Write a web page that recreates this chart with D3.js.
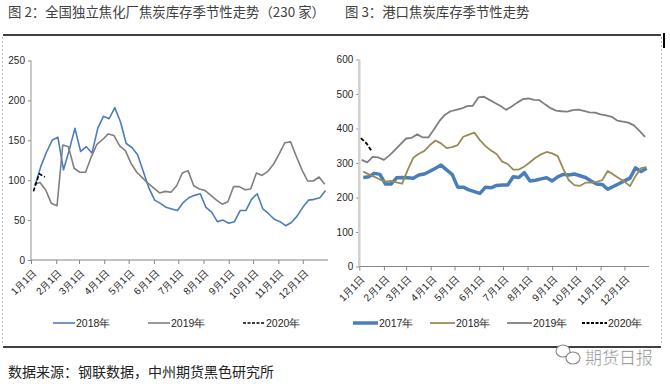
<!DOCTYPE html>
<html>
<head>
<meta charset="utf-8">
<script src="https://cdn.jsdelivr.net/npm/d3@7"></script>
<style>
  body { margin: 0; background: #fff; }
  svg { display: block; }
  .tick text { font-family: "Liberation Sans Narrow", "Liberation Sans", Arial, sans-serif; font-size: 10px; fill: #262626; }
</style>
</head>
<body>
<div id="chart"></div>
<script>
// month labels on the x axis
const months = ["1月1日", "2月1日", "3月1日", "4月1日", "5月1日", "6月1日",
  "7月1日", "8月1日", "9月1日", "10月1日", "11月1日", "12月1日"];

// figure 2: independent coking plants, coke inventory (weekly, 230 plants)
const cokeYears = ["2018年", "2019年", "2020年"];
const cokeStart = [5, 4, 3]; // day of year of first weekly reading
const coke2018 = [93, 117, 135, 150, 154, 113, 138, 165, 136, 142, 134, 165, 180, 177, 191, 173,
  146, 141, 132, 111, 90, 75, 71, 66, 64, 62, 72, 78, 81, 83, 66, 60, 48, 50, 46, 48,
  62, 62, 76, 83, 64, 58, 51, 48, 43, 47, 55, 66, 75, 76, 78, 87];
const coke2019 = [95, 97, 88, 71, 68, 144, 142, 115, 110, 110, 129, 145, 151, 158, 156, 143,
  137, 121, 110, 103, 96, 90, 84, 86, 85, 93, 109, 112, 93, 89, 87, 81, 75, 70, 73, 92,
  92, 88, 89, 109, 106, 111, 120, 133, 147, 148, 130, 113, 99, 99, 104, 95];
const coke2020 = [86, 108, 104];
const cokeTicks = [0, 50, 100, 150, 200, 250];

// figure 3: port coke inventory (weekly)
const portYears = ["2017年", "2018年", "2019年", "2020年"];
const portStart = [5, 5, 3, 2];
const port2017 = [258, 260, 270, 267, 239, 239, 257, 258, 257, 256, 265, 268, 276, 285, 294, 280,
  267, 230, 230, 222, 217, 212, 230, 228, 235, 236, 236, 260, 258, 272, 248, 250, 254, 257,
  248, 260, 267, 265, 268, 263, 258, 248, 239, 238, 224, 232, 240, 248, 256, 286, 275, 285];
const port2018 = [275, 267, 260, 252, 246, 248, 244, 240, 280, 315, 327, 335, 352, 365, 357, 343,
  346, 352, 376, 382, 388, 366, 349, 336, 326, 304, 297, 281, 281, 290, 302, 315, 325, 332,
  328, 320, 283, 250, 236, 234, 243, 243, 245, 250, 277, 267, 256, 246, 233, 262, 285, 288];
const port2019 = [309, 302, 318, 316, 309, 322, 338, 355, 371, 373, 383, 374, 374, 397, 422, 440,
  450, 454, 458, 465, 466, 490, 492, 483, 474, 465, 454, 464, 475, 485, 487, 483, 482, 470,
  459, 452, 450, 449, 453, 455, 451, 447, 446, 441, 438, 434, 423, 420, 417, 409, 393, 376];
const port2020 = [372, 357, 333];
const portTicks = [0, 100, 200, 300, 400, 500, 600];

const W = 670, H = 384;
const svg = d3.select("#chart").append("svg").attr("width", W).attr("height", H);

const cjk = '"Noto Sans CJK SC", "Noto Sans", sans-serif';
const narrow = '"Liberation Sans Narrow", "Liberation Sans", Arial, sans-serif';

// frame lines
svg.append("line").attr("x1", 3).attr("x2", 661).attr("y1", 35).attr("y2", 35)
  .attr("stroke", "#000").attr("stroke-width", 1.3);
svg.append("line").attr("x1", 3).attr("x2", 661).attr("y1", 347).attr("y2", 347)
  .attr("stroke", "#000").attr("stroke-width", 1.3);
svg.append("line").attr("x1", 2.5).attr("x2", 2.5).attr("y1", 37).attr("y2", 345)
  .attr("stroke", "#bbb").attr("stroke-dasharray", "2,2");
svg.append("line").attr("x1", 661.5).attr("x2", 661.5).attr("y1", 37).attr("y2", 345)
  .attr("stroke", "#bbb").attr("stroke-dasharray", "2,2");
svg.append("rect").attr("x", 663).attr("y", 33).attr("width", 2).attr("height", 15).attr("fill", "#000");

// titles
svg.append("text").attr("x", 8).attr("y", 17).attr("font-family", cjk).attr("font-size", 13.4)
  .attr("fill", "#404040").text("图 2：全国独立焦化厂焦炭库存季节性走势（230 家）");
svg.append("text").attr("x", 345).attr("y", 17).attr("font-family", cjk).attr("font-size", 13.4)
  .attr("fill", "#404040").text("图 3：港口焦炭库存季节性走势");
svg.append("text").attr("x", 8).attr("y", 377).attr("font-family", cjk).attr("font-size", 14)
  .attr("fill", "#222").text("数据来源：钢联数据，中州期货黑色研究所");

// day-of-year -> date in a plain (non leap) year
const dayDate = (d) => new Date(2001, 0, 1 + d);
const weekly = (start, vals) => vals.map((v, i) => ({ date: dayDate(start + 7 * i), value: v }));
const monthDates = d3.range(12).map((m) => new Date(2001, m, 1));

function panel(opt) {
  const x = d3.scaleTime().domain([new Date(2001, 0, 1), new Date(2002, 0, 1)]).range([opt.x0, opt.x1]);
  const y = d3.scaleLinear().domain([0, opt.ticks[opt.ticks.length - 1]]).range([opt.y0, opt.y1]);
  const g = svg.append("g");

  // y axis
  const ya = g.append("g").attr("transform", `translate(${opt.x0},0)`)
    .call(d3.axisLeft(y).tickValues(opt.ticks).tickSize(3).tickPadding(3));
  ya.select(".domain").remove();
  ya.selectAll(".tick line").attr("stroke", "#868686");
  g.append("line").attr("x1", opt.x0).attr("x2", opt.x0).attr("y1", opt.y1).attr("y2", opt.y0)
    .attr("stroke", opt.yAxisColor).attr("stroke-width", opt.yAxisWidth);

  // x axis
  const xa = g.append("g").attr("transform", `translate(0,${opt.y0})`)
    .call(d3.axisBottom(x).tickValues(monthDates).tickSize(4).tickFormat((d, i) => months[i]));
  xa.select(".domain").remove();
  xa.selectAll(".tick line").attr("stroke", "#868686");
  xa.selectAll(".tick text")
    .attr("x", 0).attr("y", 0).attr("dy", "0.35em")
    .attr("transform", "translate(3,11) rotate(-45)")
    .style("text-anchor", "end");
  g.append("line").attr("x1", opt.x0).attr("x2", opt.x1).attr("y1", opt.y0).attr("y2", opt.y0)
    .attr("stroke", "#868686").attr("stroke-width", 1.2);

  const line = d3.line().x((d) => x(d.date)).y((d) => y(d.value));
  opt.series.forEach((s) => {
    g.append("path").datum(weekly(s.start, s.values))
      .attr("fill", "none").attr("stroke", s.color).attr("stroke-width", s.width)
      .attr("stroke-dasharray", s.dash || null).attr("stroke-linejoin", "round")
      .attr("d", line);
  });

  // legend
  opt.series.forEach((s, i) => {
    const lx = opt.legendX[i];
    g.append("line").attr("x1", lx).attr("x2", lx + opt.legendLen).attr("y1", opt.legendY).attr("y2", opt.legendY)
      .attr("stroke", s.color).attr("stroke-width", s.width).attr("stroke-dasharray", s.dash ? "3,1.5" : null);
    g.append("text").attr("x", lx + opt.legendLen + 1).attr("y", opt.legendY + 4)
      .attr("font-family", narrow).attr("font-size", 10.5).attr("fill", "#262626").text(s.name);
  });
}

panel({
  x0: 31, x1: 328, y0: 260, y1: 60.5, ticks: cokeTicks,
  yAxisColor: "#a6a6a6", yAxisWidth: 1.2,
  legendY: 323, legendX: [53, 148, 243], legendLen: 22,
  series: [
    { name: cokeYears[0], start: cokeStart[0], values: coke2018, color: "#4a7ebb", width: 1.6 },
    { name: cokeYears[1], start: cokeStart[1], values: coke2019, color: "#7f7f7f", width: 1.6 },
    { name: cokeYears[2], start: cokeStart[2], values: coke2020, color: "#000", width: 1.6, dash: "4,2" }
  ]
});

panel({
  x0: 359.3, x1: 649, y0: 266.5, y1: 59.5, ticks: portTicks,
  yAxisColor: "#d0d0d0", yAxisWidth: 2.5,
  legendY: 323, legendX: [353, 430, 507, 582], legendLen: 25,
  series: [
    { name: portYears[0], start: portStart[0], values: port2017, color: "#4a7ebb", width: 3.5 },
    { name: portYears[1], start: portStart[1], values: port2018, color: "#978c58", width: 1.8 },
    { name: portYears[2], start: portStart[2], values: port2019, color: "#7f7f7f", width: 1.8 },
    { name: portYears[3], start: portStart[3], values: port2020, color: "#000", width: 1.8, dash: "4,2" }
  ]
});

// watermark
const wm = svg.append("g");
wm.append("ellipse").attr("cx", 563).attr("cy", 351).attr("rx", 7).attr("ry", 6)
  .attr("fill", "#fff").attr("stroke", "#888").attr("stroke-width", 1.1);
wm.append("ellipse").attr("cx", 573).attr("cy", 358).attr("rx", 7).attr("ry", 6)
  .attr("fill", "#fff").attr("stroke", "#888").attr("stroke-width", 1.1);
wm.append("text").attr("x", 585).attr("y", 364).attr("font-family", cjk).attr("font-size", 17)
  .attr("fill", "#777").attr("stroke", "#fff").attr("stroke-width", 0.5).text("期货日报");
</script>
</body>
</html>
